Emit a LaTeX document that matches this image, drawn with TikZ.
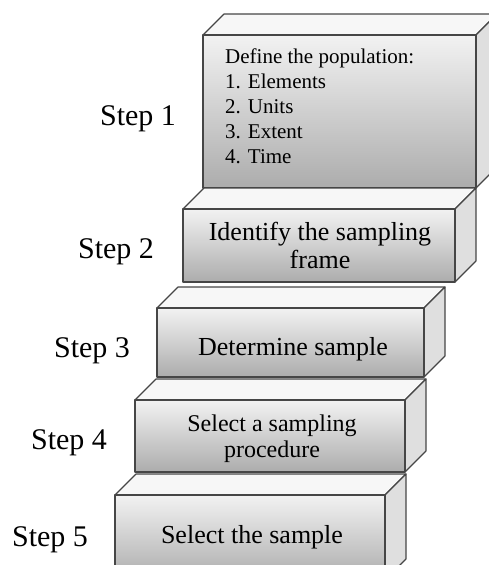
\documentclass[tikz,border=0pt]{standalone}
\usepackage{fontspec}
\setmainfont{Liberation Serif}
\tikzset{
  frontface/.style={draw=gray!55!black, line width=1.1pt, top color=gray!10, bottom color=gray!65, line join=round},
  topface/.style={draw=gray!55!black, line width=1.1pt, fill=gray!6, line join=round},
  sideface/.style={draw=gray!55!black, line width=1.1pt, fill=gray!25, line join=round},
  steplabel/.style={font=\fontsize{30}{36}\selectfont, anchor=base, inner sep=0pt},
  boxtext/.style={font=\fontsize{26}{28}\selectfont, align=center, inner sep=0pt},
}
\begin{document}
\begin{tikzpicture}[x=1pt,y=-1pt]
  \useasboundingbox (0,0) rectangle (489,565);
  \clip (0,0) rectangle (489,565);
  % staircase, top step first so lower steps sit in front
  \foreach \xa/\ya/\xb/\yb in {203/35/476/188, 183/209/455/282, 157/308/424/377, 135/400/405/472, 115/495/385/580}{
    \draw[topface] (\xa,\ya) -- ++(21,-21) -- (\xb+21,\ya-21) -- (\xb,\ya) -- cycle;
    \draw[sideface] (\xb,\ya) -- (\xb+21,\ya-21) -- (\xb+21,\yb-21) -- (\xb,\yb) -- cycle;
    \draw[frontface] (\xa,\ya) rectangle (\xb,\yb);
  }
  % step labels
  \node[steplabel] (step1) at (138,125) {Step 1};
  \node[steplabel] (step2) at (116,258) {Step 2};
  \node[steplabel] (step3) at (92,357) {Step 3};
  \node[steplabel] (step4) at (69,449) {Step 4};
  \node[steplabel] (step5) at (50,546) {Step 5};
  % texts on the steps
  \node[boxtext, font=\fontsize{21}{25}\selectfont, align=left, anchor=north west] (popbox) at (225,49) {Define the population:\\1. Elements\\2. Units\\3. Extent\\4. Time};
  \node[boxtext] (framebox) at (320,245) {Identify the sampling\\frame};
  \node[boxtext, anchor=base] (detbox) at (293,355) {Determine sample};
  \node[boxtext, font=\fontsize{24}{26}\selectfont] (procbox) at (272,439) {Select a sampling\\procedure};
  \node[boxtext, anchor=base] (selbox) at (252,543) {Select the sample};
\end{tikzpicture}
\end{document}
